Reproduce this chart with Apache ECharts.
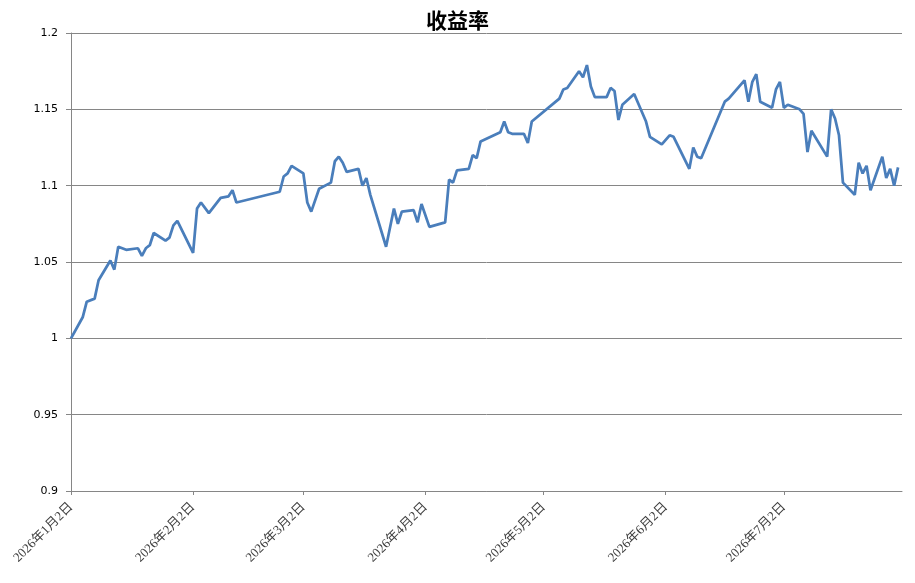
<!DOCTYPE html>
<html>

<head>
    <meta charset="UTF-8">
    <meta name="viewport" content="width=device-width, initial-scale=1.0">
    <script src="https://cdn.jsdelivr.net/npm/echarts@6/dist/echarts.min.js"></script>
    <title>收益率</title>
    <style>
        html,
        body {
            margin: 0;
            padding: 0;
            background: #fff;
        }

        #chart {
            width: 915px;
            height: 583px;
        }
    </style>
</head>

<body>
    <div id="chart"></div>
</body>

</html>
<script>
    // 交易日期
    const dates = [
        '2026-01-02', '2026-01-05', '2026-01-06', '2026-01-08', '2026-01-09', '2026-01-12', '2026-01-13',
        '2026-01-14', '2026-01-16', '2026-01-19', '2026-01-20', '2026-01-21', '2026-01-22', '2026-01-23',
        '2026-01-26', '2026-01-27', '2026-01-28', '2026-01-29', '2026-02-02', '2026-02-03', '2026-02-04',
        '2026-02-06', '2026-02-09', '2026-02-11', '2026-02-12', '2026-02-13', '2026-02-24', '2026-02-25',
        '2026-02-26', '2026-02-27', '2026-03-02', '2026-03-03', '2026-03-04', '2026-03-06', '2026-03-09',
        '2026-03-10', '2026-03-11', '2026-03-12', '2026-03-13', '2026-03-16', '2026-03-17', '2026-03-18',
        '2026-03-19', '2026-03-23', '2026-03-25', '2026-03-26', '2026-03-27', '2026-03-30', '2026-03-31',
        '2026-04-01', '2026-04-03', '2026-04-07', '2026-04-08', '2026-04-09', '2026-04-10', '2026-04-13',
        '2026-04-14', '2026-04-15', '2026-04-16', '2026-04-21', '2026-04-22', '2026-04-23', '2026-04-24',
        '2026-04-27', '2026-04-28', '2026-04-29', '2026-05-06', '2026-05-07', '2026-05-08', '2026-05-11',
        '2026-05-12', '2026-05-13', '2026-05-14', '2026-05-15', '2026-05-18', '2026-05-19', '2026-05-20',
        '2026-05-21', '2026-05-22', '2026-05-25', '2026-05-28', '2026-05-29', '2026-06-01', '2026-06-03',
        '2026-06-04', '2026-06-08', '2026-06-09', '2026-06-10', '2026-06-11', '2026-06-17', '2026-06-18',
        '2026-06-22', '2026-06-23', '2026-06-24', '2026-06-25', '2026-06-26', '2026-06-29', '2026-06-30',
        '2026-07-01', '2026-07-02', '2026-07-03', '2026-07-06', '2026-07-07', '2026-07-08', '2026-07-09',
        '2026-07-13', '2026-07-14', '2026-07-15', '2026-07-16', '2026-07-17', '2026-07-20', '2026-07-21',
        '2026-07-22', '2026-07-23', '2026-07-24', '2026-07-27', '2026-07-28', '2026-07-29', '2026-07-30',
        '2026-07-31'
    ];

    // 收益率
    const rates = [
        1.000, 1.014, 1.024, 1.026, 1.038, 1.051, 1.045,
        1.060, 1.058, 1.059, 1.054, 1.059, 1.061, 1.069,
        1.064, 1.066, 1.074, 1.077, 1.056, 1.085, 1.089,
        1.082, 1.092, 1.093, 1.097, 1.089, 1.096, 1.106,
        1.108, 1.113, 1.108, 1.089, 1.083, 1.098, 1.102,
        1.116, 1.119, 1.115, 1.109, 1.111, 1.100, 1.105,
        1.094, 1.060, 1.085, 1.075, 1.083, 1.084, 1.076,
        1.088, 1.073, 1.076, 1.104, 1.102, 1.110, 1.111,
        1.120, 1.118, 1.129, 1.135, 1.142, 1.135, 1.134,
        1.134, 1.128, 1.142, 1.157, 1.163, 1.164, 1.175,
        1.171, 1.179, 1.165, 1.158, 1.158, 1.164, 1.162,
        1.143, 1.153, 1.160, 1.142, 1.132, 1.127, 1.133,
        1.132, 1.111, 1.125, 1.119, 1.118, 1.155, 1.157,
        1.169, 1.155, 1.168, 1.173, 1.155, 1.151, 1.163,
        1.168, 1.151, 1.153, 1.150, 1.147, 1.122, 1.136,
        1.119, 1.150, 1.144, 1.133, 1.102, 1.094, 1.115,
        1.108, 1.113, 1.097, 1.119, 1.105, 1.111, 1.100,
        1.112
    ];

    // x 轴刻度（每月2日）
    const tickDates = ['2026-01-02', '2026-02-02', '2026-03-02', '2026-04-02', '2026-05-02', '2026-06-02', '2026-07-02'];

    function toTime(s) {
        const p = s.split('-');
        return new Date(+p[0], +p[1] - 1, +p[2]).getTime();
    }

    const seriesData = dates.map((d, i) => [toTime(d), rates[i]]);
    const ticks = tickDates.map(toTime);

    var chart = echarts.init(document.getElementById('chart'));

    var option = {
        animation: false,
        title: {
            text: '收益率',
            left: 'center',
            top: 5,
            textStyle: {
                fontFamily: 'Noto Sans CJK SC',
                fontSize: 21,
                fontWeight: 'bold',
                color: '#000'
            }
        },
        grid: {
            left: 71,
            right: 13,
            top: 33,
            bottom: 92
        },
        xAxis: {
            type: 'value',
            min: toTime('2026-01-02'),
            max: toTime('2026-08-01'),
            axisLine: { lineStyle: { color: '#868686', width: 1 } },
            axisTick: {
                show: true,
                length: 4,
                customValues: ticks,
                lineStyle: { color: '#868686' }
            },
            axisLabel: {
                customValues: ticks,
                rotate: 45,
                margin: 14,
                color: '#404040',
                fontSize: 13,
                fontFamily: 'Liberation Serif, Noto Sans CJK SC',
                formatter: function (v) {
                    const d = new Date(v);
                    return d.getFullYear() + '年' + (d.getMonth() + 1) + '月' + d.getDate() + '日';
                }
            },
            splitLine: { show: false }
        },
        yAxis: {
            type: 'value',
            min: 0.9,
            max: 1.2,
            interval: 0.05,
            axisLine: { show: true, lineStyle: { color: '#868686', width: 1 } },
            axisTick: { show: true, length: 5, lineStyle: { color: '#868686' } },
            axisLabel: {
                margin: 13,
                color: '#000',
                fontSize: 11,
                fontFamily: 'DejaVu Sans'
            },
            splitLine: { show: true, lineStyle: { color: '#868686', width: 1 } }
        },
        series: [{
            name: '收益率',
            type: 'line',
            data: seriesData,
            showSymbol: false,
            symbol: 'none',
            lineStyle: { color: '#4a7ebb', width: 2.75 },
            itemStyle: { color: '#4a7ebb' }
        }]
    };

    chart.setOption(option);
</script>
